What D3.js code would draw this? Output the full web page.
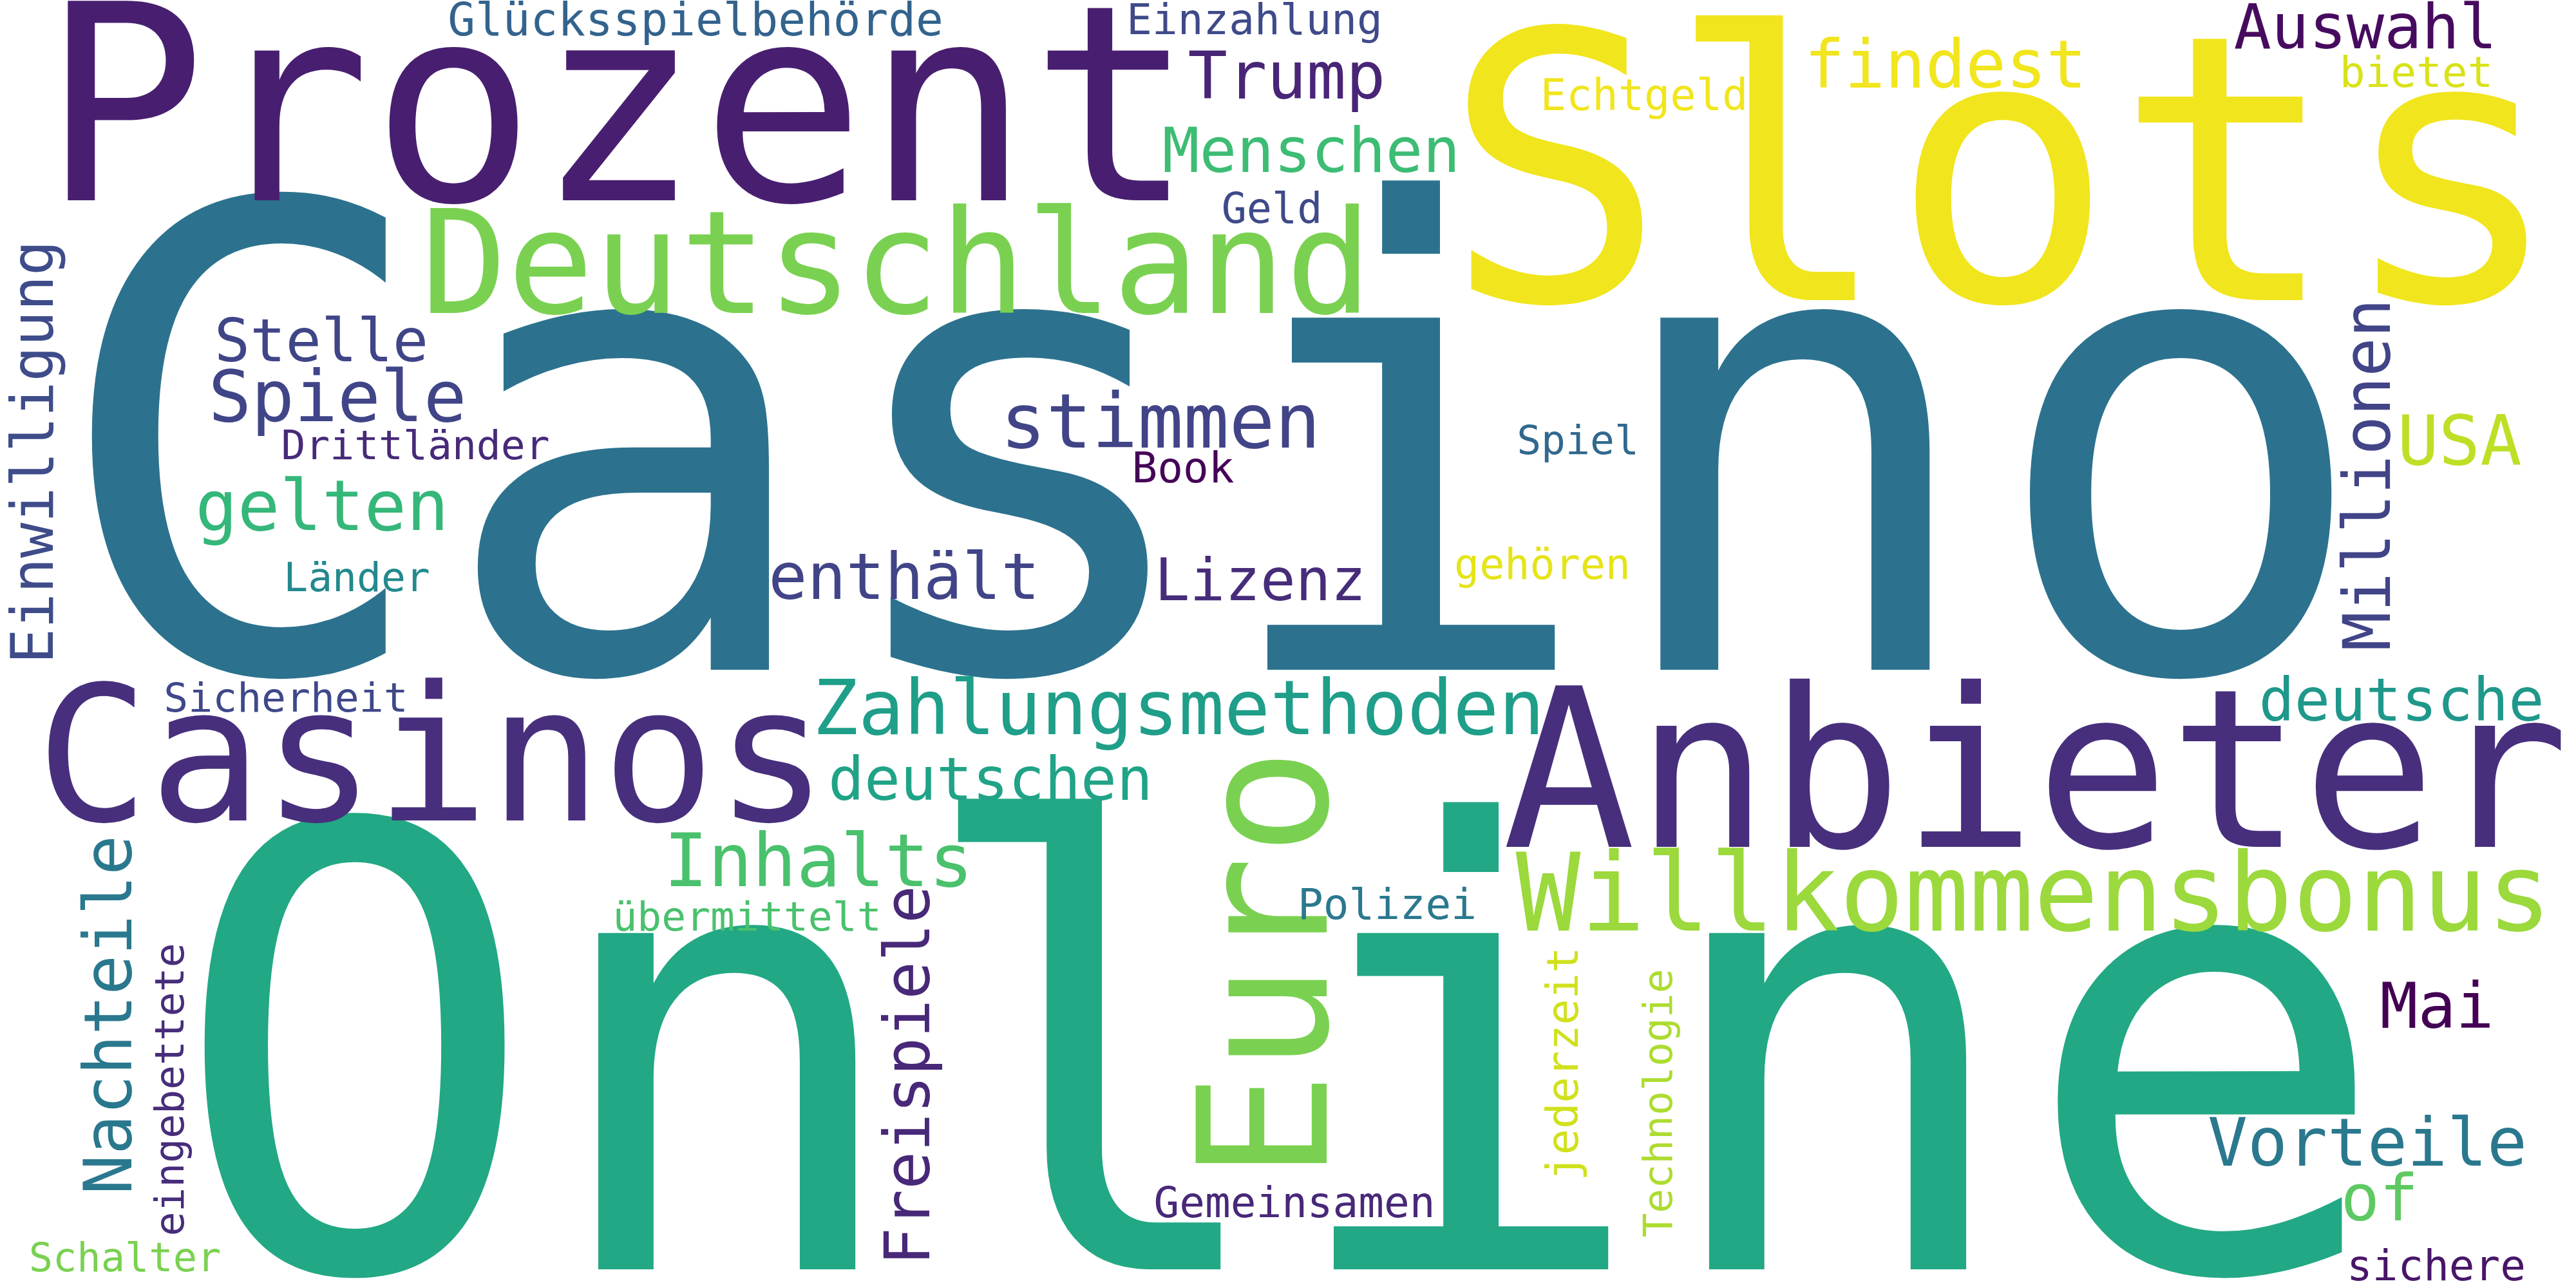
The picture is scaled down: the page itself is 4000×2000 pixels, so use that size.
<!DOCTYPE html>
<html>
<head>
<meta charset="utf-8">
<script src="https://cdn.jsdelivr.net/npm/d3@7"></script>
<style>
  body { margin: 0; background: #fff; }
  #chart { display: block; }
</style>
</head>
<body>
<svg id="chart"></svg>
<script>
// Word cloud data (layout units = reference pixels, 4000 x 2000)
const words = ["Casino", "Online", "Slots", "Prozent", "Anbieter", "Casinos", "Euro", "Deutschland",
  "Willkommensbonus", "Zahlungsmethoden", "stimmen", "Inhalts", "Spiele", "gelten", "USA", "findest",
  "Nachteile", "Vorteile", "Trump", "Millionen", "enthält", "of", "Freispiele", "Mai", "Auswahl",
  "Menschen", "deutschen", "deutsche", "Stelle", "Lizenz", "Einwilligung", "Glücksspielbehörde",
  "Echtgeld", "jederzeit", "Book", "Einzahlung", "bietet", "Polizei", "Gemeinsamen", "sichere",
  "Geld", "gehören", "Drittländer", "Länder", "Spiel", "Sicherheit", "übermittelt", "eingebettete",
  "Technologie", "Schalter"];

// relative word weight (font size in layout units)
const weights = [1000, 955, 578, 425, 344, 292, 279, 223,
  167, 118, 118, 114, 111, 109, 107, 104,
  103, 103, 102, 101, 100, 100, 98, 98, 97,
  96, 93, 92, 92, 91, 91, 71,
  67, 67, 66, 66, 66, 66, 66, 66,
  65, 65, 63, 63, 63, 63, 63, 63,
  63, 62];

// word centre along the text, and baseline (layout units)
const layoutX = [1881, 1988, 3110, 960, 3161, 671, 2060, 1392,
  3158, 1830, 1802, 1271, 524, 500, 3819, 3021,
  204, 3676, 1998, 3711, 1404, 3695, 1443, 3784, 3673,
  2036, 1538, 3729, 499, 1957, 82, 1080,
  2553, 2450, 1837, 1948, 3752, 2154, 2010, 3783,
  1975, 2395, 645, 554, 2450, 444, 1160, 285,
  2596, 194];
const layoutY = [1040, 1971, 466, 311, 1315, 1274, 1497, 486,
  1445, 1140, 695, 1376, 654, 823, 721, 136,
  1576, 1810, 153, 737, 930, 1895, 1670, 1596, 75,
  267, 1242, 1119, 561, 932, 702, 55,
  171, 1652, 749, 53, 135, 1427, 1890, 1988,
  346, 899, 713, 918, 705, 1105, 1445, 1692,
  1713, 1974];

// 1 = rotated, reads bottom to top
const vertical = [0, 0, 0, 0, 0, 0, 1, 0,
  0, 0, 0, 0, 0, 0, 0, 0,
  1, 0, 0, 1, 0, 0, 1, 0, 0,
  0, 0, 0, 0, 0, 1, 0,
  0, 1, 0, 0, 0, 0, 0, 0,
  0, 0, 0, 0, 0, 0, 0, 1,
  1, 0];

const colors = ["#2c728e", "#22a884", "#f1e51d", "#481f70", "#472f7d", "#472f7d", "#7ad151", "#7ad151",
  "#9bd93c", "#1f9e89", "#414487", "#4ac16d", "#404588", "#35b779", "#bddf26", "#f1e51d",
  "#2a788e", "#2a788e", "#482576", "#414487", "#414487", "#5ec962", "#482878", "#440154", "#460b5e",
  "#3dbc74", "#20a386", "#1f988b", "#404588", "#472c7a", "#3e4c8a", "#33638d",
  "#f1e51d", "#d0e11c", "#450457", "#3e4a89", "#d8e219", "#2a788e", "#482878", "#481668",
  "#3e4a89", "#e5e419", "#472a7a", "#23898e", "#31688e", "#3f4889", "#4ac16d", "#472d7b",
  "#addc30", "#7ad151"];

const width = 4000;
const height = 2000;

const svg = d3.select("#chart")
    .attr("width", width)
    .attr("height", height);

svg.append("rect")
    .attr("width", width)
    .attr("height", height)
    .attr("fill", "#ffffff");

// scales from layout units to the page
const x = d3.scaleLinear().domain([0, 4000]).range([0, width]);
const y = d3.scaleLinear().domain([0, 2000]).range([0, height]);
const size = d3.scaleLinear().domain([0, 1000]).range([0, x(1000) - x(0)]);

const data = words.map((w, i) => ({
    text: w,
    weight: weights[i],
    cx: layoutX[i],
    cy: layoutY[i],
    rotate: vertical[i] ? -90 : 0,
    color: colors[i]
}));

svg.append("g")
    .selectAll("text")
    .data(data)
    .enter()
    .append("text")
    .attr("transform", d => `translate(${x(d.cx)},${y(d.cy)}) rotate(${d.rotate})`)
    .attr("text-anchor", "middle")
    .style("font-family", "'DejaVu Sans Mono', monospace")
    .style("font-size", d => size(d.weight) + "px")
    .attr("fill", d => d.color)
    .text(d => d.text);
</script>
</body>
</html>
